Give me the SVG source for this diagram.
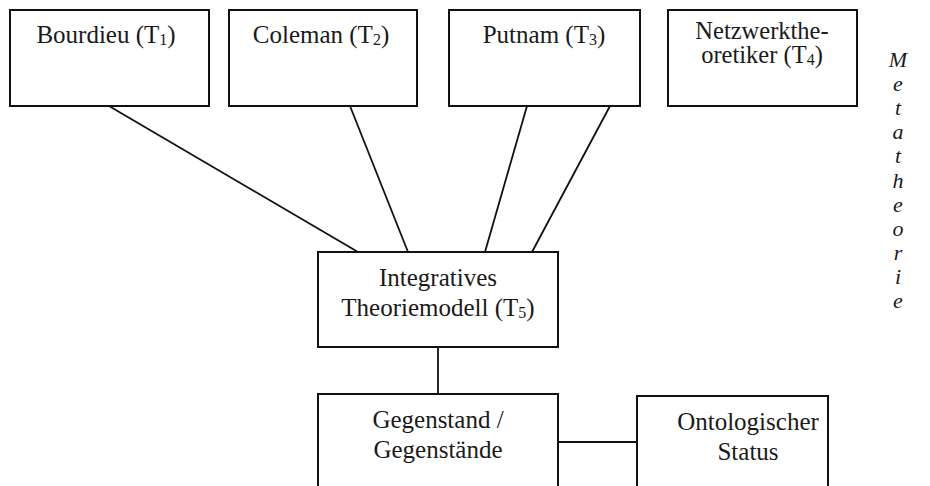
<svg xmlns="http://www.w3.org/2000/svg" width="930" height="486" viewBox="0 0 930 486">
  <style>
    .box { fill: #ffffff; stroke: #111111; stroke-width: 2; }
    .edge { stroke: #111111; stroke-width: 1.8; fill: none; }
    .lbl { font-family: "Liberation Serif", "Times New Roman", serif; font-size: 25px; fill: #1a1a1a; text-anchor: middle; }
    .tight { font-size: 24.5px; }
    .sub { font-size: 16px; }
    .side { font-family: "Liberation Serif", "Times New Roman", serif; font-size: 22px; font-style: italic; fill: #1a1a1a; text-anchor: middle; }
  </style>
  <rect width="930" height="486" fill="#ffffff"/>

  <!-- connectors -->
  <g id="connectors">
    <line class="edge" x1="109" y1="106" x2="358" y2="252"/>
    <line class="edge" x1="350" y1="106" x2="408" y2="252"/>
    <line class="edge" x1="527" y1="106" x2="485" y2="252"/>
    <line class="edge" x1="610" y1="106" x2="532" y2="252"/>
    <line class="edge" x1="438" y1="347" x2="438" y2="394"/>
    <line class="edge" x1="558" y1="442" x2="637" y2="442"/>
  </g>

  <g id="bourdieu">
    <rect class="box" x="10" y="10" width="199" height="96"/>
    <text class="lbl" x="106" y="43">Bourdieu (T<tspan class="sub" dy="2">1</tspan><tspan dy="-2">)</tspan></text>
  </g>

  <g id="coleman">
    <rect class="box" x="229" y="10" width="188" height="96"/>
    <text class="lbl" x="321" y="43">Coleman (T<tspan class="sub" dy="2">2</tspan><tspan dy="-2">)</tspan></text>
  </g>

  <g id="putnam">
    <rect class="box" x="449" y="10" width="191" height="96"/>
    <text class="lbl" x="544" y="43">Putnam (T<tspan class="sub" dy="2">3</tspan><tspan dy="-2">)</tspan></text>
  </g>

  <g id="netzwerktheoretiker">
    <rect class="box" x="668" y="10" width="189" height="96"/>
    <text class="lbl tight" x="762" y="38.5">Netzwerkthe-</text>
    <text class="lbl tight" x="762" y="63">oretiker (T<tspan class="sub" dy="2">4</tspan><tspan dy="-2">)</tspan></text>
  </g>

  <g id="integratives-modell">
    <rect class="box" x="318" y="252" width="240" height="95"/>
    <text class="lbl" x="438" y="286">Integratives</text>
    <text class="lbl" x="438" y="316">Theoriemodell (T<tspan class="sub" dy="2">5</tspan><tspan dy="-2">)</tspan></text>
  </g>

  <g id="gegenstand">
    <rect class="box" x="318" y="394" width="240" height="110"/>
    <text class="lbl" x="438" y="428">Gegenstand /</text>
    <text class="lbl" x="438" y="458">Gegenstände</text>
  </g>

  <g id="ontologischer-status">
    <rect class="box" x="637" y="396" width="191" height="110"/>
    <text class="lbl" x="748" y="430">Ontologischer</text>
    <text class="lbl" x="748" y="460">Status</text>
  </g>

  <!-- vertical side label -->
  <g id="metatheorie">
    <text class="side" x="898" y="67">M</text>
    <text class="side" x="898" y="91">e</text>
    <text class="side" x="898" y="115">t</text>
    <text class="side" x="898" y="139">a</text>
    <text class="side" x="898" y="163">t</text>
    <text class="side" x="898" y="188">h</text>
    <text class="side" x="898" y="212">e</text>
    <text class="side" x="898" y="236">o</text>
    <text class="side" x="898" y="260">r</text>
    <text class="side" x="898" y="284">i</text>
    <text class="side" x="898" y="308">e</text>
  </g>
</svg>
